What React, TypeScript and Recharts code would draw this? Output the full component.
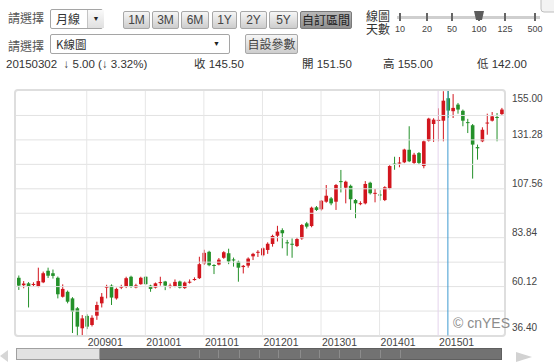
import { ComposedChart, Bar, XAxis, YAxis, ReferenceLine } from 'recharts';

// monthly OHLC, 2007/11 .. 2016/02 (100 bars)
const opens = [
  64.4, 60.8, 61.7, 60.9, 60.1, 62.2, 67.8, 66.6, 64.4, 55.2,
  57.6, 54.4, 49.6, 39.9, 45.9, 41.5, 46.0, 52.0, 59.6, 60.6,
  54.4, 59.6, 60.0, 64.9, 59.7, 61.3, 64.9, 60.6, 59.6, 61.9,
  62.6, 60.2, 60.4, 62.6, 59.4, 62.0, 63.3, 64.2, 71.4, 77.0,
  70.6, 70.8, 74.1, 76.3, 73.3, 72.2, 69.6, 70.3, 74.8, 76.6,
  75.3, 77.9, 80.8, 84.8, 87.5, 81.6, 80.9, 79.8, 83.5, 90.8,
  89.5, 98.6, 97.6, 101.3, 102.9, 101.3, 111.3, 108.1, 109.0, 102.1,
  100.1, 100.5, 110.5, 105.2, 104.8, 102.1, 107.8, 119.8, 119.8, 120.4,
  126.5, 120.1, 124.9, 118.6, 130.9, 139.0, 140.6, 140.6, 151.5, 145.2,
  148.4, 145.4, 139.9, 138.4, 127.8, 130.6, 139.3, 140.6, 142.4, 143.8,
];
const highs = [
  65.5, 62.8, 62.3, 62.2, 69.3, 67.4, 69.3, 68.4, 65.0, 61.2,
  58.2, 55.0, 50.2, 46.3, 46.7, 46.2, 52.8, 57.0, 61.0, 61.2,
  59.6, 61.0, 64.9, 65.4, 61.5, 64.9, 65.2, 61.0, 62.1, 64.9,
  62.9, 61.6, 63.6, 63.0, 62.6, 63.6, 64.6, 74.6, 78.0, 77.5,
  71.0, 74.0, 77.3, 78.5, 74.2, 72.7, 70.6, 74.3, 76.5, 77.8,
  79.2, 81.6, 85.3, 89.6, 88.4, 82.8, 83.5, 84.0, 90.5, 91.5,
  98.9, 99.2, 102.1, 109.4, 103.6, 109.9, 116.7, 111.5, 109.6, 102.6,
  101.5, 111.3, 111.0, 107.5, 106.9, 108.8, 119.0, 123.1, 123.0, 127.0,
  137.9, 125.0, 125.4, 131.0, 142.0, 141.8, 146.6, 154.9, 155.0, 153.5,
  149.2, 146.0, 141.5, 139.0, 129.0, 137.4, 144.0, 144.8, 144.3, 146.8,
];
const lows = [
  58.5, 59.3, 50.0, 60.2, 59.8, 61.8, 64.3, 64.0, 54.4, 54.8,
  52.0, 37.6, 36.4, 36.6, 39.5, 40.8, 44.0, 50.0, 54.4, 51.2,
  53.8, 58.9, 59.4, 59.5, 59.3, 61.0, 60.9, 57.6, 59.2, 60.6,
  58.4, 59.3, 59.8, 59.2, 59.0, 61.6, 63.0, 63.8, 70.6, 70.0,
  66.2, 70.4, 73.6, 71.0, 69.8, 62.5, 66.5, 69.3, 73.0, 74.5,
  74.7, 76.0, 79.5, 82.0, 78.7, 75.1, 74.1, 79.3, 82.8, 88.3,
  88.9, 96.8, 97.0, 100.8, 99.6, 97.3, 105.8, 100.5, 97.3, 93.3,
  99.6, 100.0, 104.8, 101.0, 101.8, 101.6, 107.3, 116.8, 118.0, 120.0,
  120.5, 119.6, 119.4, 117.5, 130.5, 130.3, 130.6, 130.6, 142.0, 141.9,
  144.0, 137.9, 134.6, 112.5, 121.7, 130.2, 133.8, 140.2, 130.6, 143.4,
];
const closes = [
  60.6, 61.6, 60.1, 61.4, 62.8, 66.6, 65.4, 65.3, 56.4, 59.0,
  52.8, 48.0, 40.7, 44.7, 40.7, 45.0, 51.2, 55.2, 60.3, 54.8,
  59.0, 60.3, 64.2, 60.0, 60.7, 64.4, 61.3, 59.0, 61.7, 62.3,
  60.6, 60.6, 62.4, 59.6, 62.1, 62.5, 63.8, 71.0, 76.5, 70.5,
  70.3, 73.2, 76.8, 72.3, 72.8, 69.3, 70.2, 73.7, 76.0, 77.0,
  78.7, 80.9, 84.7, 86.8, 86.0, 81.1, 80.6, 83.2, 90.0, 89.2,
  98.4, 97.3, 101.8, 104.2, 100.5, 109.4, 110.8, 111.0, 102.5, 100.5,
  100.6, 109.9, 105.4, 105.6, 104.5, 108.3, 118.6, 119.4, 120.3, 126.6,
  120.9, 124.1, 120.1, 130.6, 141.6, 141.1, 141.0, 150.3, 145.5, 146.8,
  146.0, 140.6, 139.5, 129.0, 127.2, 136.2, 139.7, 142.7, 142.1, 146.0,
];

const priceTicks = [36.4, 60.12, 83.84, 107.56, 131.28, 155.0];
const gridLevels = [48.26, 60.12, 71.98, 83.84, 95.7, 107.56, 119.42, 131.28, 143.14];
const yearMarks = ['200901', '201001', '201101', '201201', '201301', '201401', '201501'];
const crossMonth = '201503';

const months: string[] = [];
for (let i = 0; i < opens.length; i++) {
  const m = 10 + i;
  months.push(`${2007 + Math.floor(m / 12)}${String((m % 12) + 1).padStart(2, '0')}`);
}

const RED = '#d2161e';
const GREEN = '#24912a';
const FONT = '"Liberation Sans", Arial, "Noto Sans CJK TC", sans-serif';
const CJK = '"Noto Sans CJK TC", "Liberation Sans", sans-serif';

function Candle(props: any) {
  const { x, y, width, height, payload } = props;
  const { open, close, high, low } = payload;
  const top = Math.min(y, y + height);
  const h = Math.abs(height);
  const toY = (v: number) => (high === low ? top : top + ((high - v) / (high - low)) * h);
  const color = close >= open ? RED : GREEN;
  const cx = x + width / 2;
  const bTop = toY(Math.max(open, close));
  const bBot = toY(Math.min(open, close));
  return (
    <g>
      <line x1={cx} x2={cx} y1={top} y2={top + h} stroke={color} strokeWidth={1} />
      <rect x={x} y={bTop} width={width} height={Math.max(1, bBot - bTop)} fill={color} />
    </g>
  );
}

function PriceTick({ x, y, payload }: any) {
  const v = payload.value;
  const dy = v >= 155 ? 7 : v <= 36.4 ? -8 : -5;
  return (
    <text x={x + 8} y={y + dy} textAnchor="start" dominantBaseline="central" fontSize={10} fontFamily={FONT} fill="#444">
      {v.toFixed(2)}
    </text>
  );
}

function MonthTick({ x, y, payload }: any) {
  if (!yearMarks.includes(payload.value)) return null;
  return (
    <text x={x + 1} y={y + 6} textAnchor="start" dominantBaseline="central" fontSize={10.5} fontFamily={FONT} fill="#444">
      {payload.value}
    </text>
  );
}

const btn = (left: number, width: number, dark = false): React.CSSProperties => ({
  position: 'absolute', left, top: 11, width, height: 18, boxSizing: 'border-box',
  border: `1px solid ${dark ? '#7a7a7a' : '#a8a8a8'}`, borderRadius: 2,
  background: dark ? 'linear-gradient(#b8b8b8, #8f8f8f)' : 'linear-gradient(#f6f6f6, #cdcdcd)',
  fontSize: 12, lineHeight: '16px', textAlign: 'center', color: dark ? '#222' : '#444',
  fontFamily: dark ? CJK : FONT,
});

function Header() {
  const label: React.CSSProperties = { position: 'absolute', left: 8, fontSize: 12, color: '#555', fontFamily: CJK, lineHeight: '14px' };
  const info: React.CSSProperties = { position: 'absolute', top: 57, fontSize: 11.5, color: '#333', lineHeight: '14px', whiteSpace: 'nowrap' };
  const sliderTicks = [
    { v: '10', x: 400 }, { v: '20', x: 427 }, { v: '50', x: 452 },
    { v: '100', x: 479 }, { v: '125', x: 505 }, { v: '500', x: 535 },
  ];
  return (
    <>
      <div style={{ ...label, top: 11 }}>請選擇</div>
      <div style={{ position: 'absolute', left: 50, top: 9, width: 53, height: 20, boxSizing: 'border-box', border: '1px solid #a5a5a5', borderRadius: 2, background: '#fff' }}>
        <span style={{ position: 'absolute', left: 5, top: 2, fontSize: 12, fontFamily: CJK, lineHeight: '14px' }}>月線</span>
        <span style={{ position: 'absolute', left: 36, top: 0, width: 16, height: 18, borderLeft: '1px solid #c4c4c4', background: 'linear-gradient(#fafafa, #e0e0e0)', fontSize: 7, lineHeight: '18px', textAlign: 'center', color: '#222' }}>▼</span>
      </div>
      <div style={btn(123, 27)}>1M</div>
      <div style={btn(152, 27)}>3M</div>
      <div style={btn(181, 28)}>6M</div>
      <div style={btn(212, 25)}>1Y</div>
      <div style={btn(240, 27)}>2Y</div>
      <div style={btn(269, 29)}>5Y</div>
      <div style={btn(300, 52, true)}>自訂區間</div>

      <div style={{ ...label, top: 39 }}>請選擇</div>
      <div style={{ position: 'absolute', left: 50, top: 34, width: 180, height: 20, boxSizing: 'border-box', border: '1px solid #a5a5a5', borderRadius: 2, background: '#fff' }}>
        <span style={{ position: 'absolute', left: 5, top: 2, fontSize: 11.5, fontFamily: CJK, lineHeight: '14px' }}>K線圖</span>
        <span style={{ position: 'absolute', left: 162, top: 0, fontSize: 7, lineHeight: '18px', color: '#222' }}>▼</span>
      </div>
      <div style={{ ...btn(245, 53), top: 34, height: 20, lineHeight: '18px', fontFamily: CJK }}>自設參數</div>

      <div style={{ ...info, left: 6 }}>20150302 &nbsp;↓ 5.00 (↓ 3.32%)</div>
      <div style={{ ...info, left: 194 }}>收 145.50</div>
      <div style={{ ...info, left: 302 }}>開 151.50</div>
      <div style={{ ...info, left: 383 }}>高 155.00</div>
      <div style={{ ...info, left: 477 }}>低 142.00</div>

      <div style={{ position: 'absolute', left: 366, top: 9, width: 25, fontSize: 12, lineHeight: '13px', fontFamily: CJK, color: '#333', wordBreak: 'break-all' }}>線圖天數</div>
      <svg width={554} height={363} style={{ position: 'absolute', left: 0, top: 0, pointerEvents: 'none' }}>
        <rect x={541} y={-4} width={20} height={16} rx={3} fill="#f3f3f3" stroke="#bdbdbd" />
        <rect x={397} y={16} width={143} height={3} fill="#cfcfcf" />
        {sliderTicks.map((t) => (
          <g key={t.v}>
            <rect x={t.x - 1} y={13} width={2} height={8} fill="#666" />
            <text x={t.x} y={29} textAnchor="middle" dominantBaseline="central" fontSize={9} fontFamily={FONT} fill="#444">{t.v}</text>
          </g>
        ))}
        <polygon points="474,11 484,11 482,20 476,20" fill="#5c5c5c" />
        <polygon points="8,350 8,362 0,356" fill="#d6d6d6" />
        <rect x={16.5} y={348.5} width={485} height={11} fill="#727272" stroke="#5f5f5f" />
        <rect x={16.5} y={348.5} width={83} height={11} fill="#e2e2e2" stroke="#a0a0a0" />
        {[199, 218, 239, 259, 278, 300, 319, 339, 360, 380, 400].map((gx) => (
          <line key={gx} x1={gx + 0.5} x2={gx + 0.5} y1={350} y2={358} stroke="#8c8c8c" />
        ))}
        <polygon points="516,352 532,357 516,362" fill="#d2d2d2" />
      </svg>
    </>
  );
}

export default function App() {
  const data = months.map((month, i) => ({
    month, open: opens[i], high: highs[i], low: lows[i], close: closes[i], range: [lows[i], highs[i]],
  }));
  return (
    <div style={{ position: 'absolute', left: 0, top: 0, width: 554, height: 363, background: '#fff', overflow: 'hidden', fontFamily: FONT, color: '#333' }}>
      <Header />
      <div style={{ position: 'absolute', left: 14, top: 89, width: 492, height: 248, boxSizing: 'border-box', border: '2px solid #dedede', borderRadius: 4 }} />
      <div style={{ position: 'absolute', left: 0, top: 0 }}>
        <ComposedChart width={554} height={363} data={data} margin={{ top: 91, right: 0, bottom: 0, left: 16 }} barSize={3.6}>
          <XAxis dataKey="month" height={27.5} interval={0} tickLine={false} axisLine={false} tickSize={0} tickMargin={0} tick={<MonthTick />} />
          <YAxis orientation="right" width={50} domain={[36.4, 155]} ticks={priceTicks} allowDataOverflow tickLine={false} axisLine={false} tickSize={0} tickMargin={0} tick={<PriceTick />} />
          {gridLevels.map((v) => (
            <ReferenceLine key={v} y={v} stroke="#e2e2e2" strokeWidth={1} />
          ))}
          {yearMarks.map((m) => (
            <ReferenceLine key={m} x={m} stroke={m === '201501' ? '#e4d3ec' : '#e6e6e6'} strokeWidth={1} />
          ))}
          <ReferenceLine x={crossMonth} stroke="#3d9bd0" strokeWidth={1} />
          <Bar dataKey="range" shape={<Candle />} isAnimationActive={false} />
        </ComposedChart>
      </div>
      <div style={{ position: 'absolute', left: 453, top: 315, fontSize: 14, color: '#8c8c8c', fontFamily: FONT }}>© cnYES</div>
    </div>
  );
}
